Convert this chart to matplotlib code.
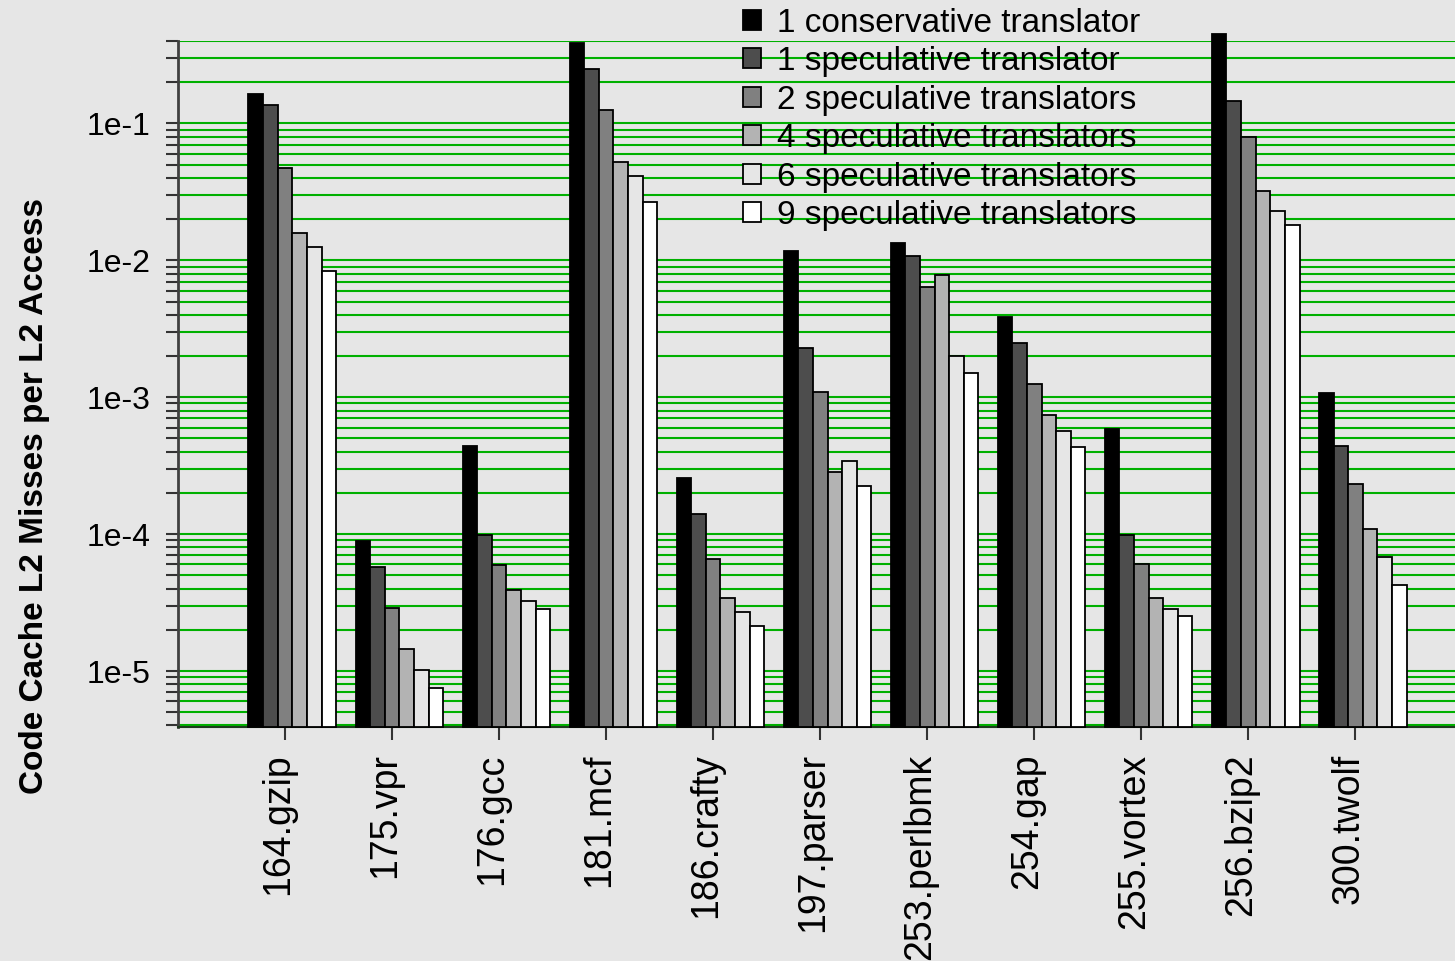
import numpy as np
import matplotlib
matplotlib.use("Agg")
from matplotlib import pyplot as plt
from matplotlib.transforms import ScaledTranslation

plt.rcParams['font.family'] = ['Liberation Sans', 'DejaVu Sans']

# --- benchmarks and code cache miss rates (misses per L2 access)
benchmarks = ['164.gzip', '175.vpr', '176.gcc', '181.mcf', '186.crafty', '197.parser',
              '253.perlbmk', '254.gap', '255.vortex', '256.bzip2', '300.twolf']

series = ['1 conservative translator', '1 speculative translator', '2 speculative translators',
          '4 speculative translators', '6 speculative translators', '9 speculative translators']

conservative_1 = [0.165, 8.9e-5, 4.38e-4, 0.385, 2.56e-4, 0.0118, 0.0133, 3.84e-3, 5.86e-4, 0.453, 1.07e-3]
speculative_1 = [0.136, 5.8e-5, 9.9e-5, 0.25, 1.40e-4, 2.27e-3, 0.0108, 2.5e-3, 9.9e-5, 0.146, 4.43e-4]
speculative_2 = [0.0472, 2.9e-5, 5.9e-5, 0.125, 6.6e-5, 1.09e-3, 6.4e-3, 1.24e-3, 6.0e-5, 0.0796, 2.34e-4]
speculative_4 = [0.0159, 1.44e-5, 3.9e-5, 0.0527, 3.43e-5, 2.83e-4, 7.83e-3, 7.43e-4, 3.4e-5, 0.032, 1.09e-4]
speculative_6 = [0.0126, 1.02e-5, 3.24e-5, 0.041, 2.71e-5, 3.4e-4, 2.01e-3, 5.7e-4, 2.85e-5, 0.023, 6.8e-5]
speculative_9 = [0.0084, 7.5e-6, 2.82e-5, 0.0265, 2.15e-5, 2.25e-4, 1.50e-3, 4.35e-4, 2.53e-5, 0.018, 4.27e-5]

values = [conservative_1, speculative_1, speculative_2, speculative_4, speculative_6, speculative_9]
fills = ['#000000', '#4d4d4d', '#808080', '#b3b3b3', '#e6e6e6', '#ffffff']

bg = '#e6e6e6'
ymin, ymax = 3.9e-6, 0.4

fig = plt.figure(figsize=(14.55, 9.61), dpi=100, facecolor=bg)
ax = fig.add_axes([0.1223, 0.2435, 0.8777, 0.7138], facecolor=bg)

x = np.arange(len(benchmarks))
w = 0.1365
for i, (vals, c) in enumerate(zip(values, fills)):
    # bars start at the axis floor so the tallest one may poke out of the top
    ax.bar(x + (i - 2) * w, np.array(vals) - ymin, bottom=ymin, width=w, color=c,
           edgecolor='black', linewidth=1.3, label=series[i], zorder=3, clip_on=False)

ax.set_yscale('log')
ax.set_ylim(ymin, ymax)
ax.set_xlim(-1.0, 10.93)

# green grid on every decade and sub-decade
ax.yaxis.set_minor_locator(matplotlib.ticker.LogLocator(base=10, subs=np.arange(2, 10)))
ax.yaxis.set_minor_formatter(matplotlib.ticker.NullFormatter())
ax.yaxis.set_major_formatter(matplotlib.ticker.FuncFormatter(lambda v, p: '1e%d' % round(np.log10(v))))
ax.grid(True, which='both', axis='y', color='#00b000', linewidth=1.5, zorder=0)
ax.set_axisbelow(True)

ax.tick_params(axis='y', which='both', direction='out', length=9, width=1.5, color='#333333',
               labelsize=23, pad=11)
ax.tick_params(axis='x', direction='out', length=9, width=1.5, color='#333333', labelsize=27, pad=10)

ax.set_xticks(x)
ax.set_xticklabels(benchmarks, rotation=90, va='top', ha='center')
for lab in ax.get_xticklabels():
    lab.set_transform(lab.get_transform() + ScaledTranslation(-7 / 100, 0, fig.dpi_scale_trans))

for s in ['top', 'right']:
    ax.spines[s].set_visible(False)
ax.spines['left'].set_color('#404040')
ax.spines['left'].set_linewidth(2)
ax.spines['bottom'].set_color('#1e3a1e')
ax.spines['bottom'].set_linewidth(1.5)

fig.text(0.0235, 0.484, 'Code Cache L2 Misses per L2 Access', rotation=90, ha='center', va='center',
         fontsize=24, fontweight='bold')

leg = ax.legend(loc='upper left', bbox_to_anchor=(0.5105, 0.992), bbox_transform=fig.transFigure,
                frameon=False, fontsize=24, handlelength=0.54, handleheight=0.54,
                handletextpad=0.5, labelspacing=0.225, borderpad=0, borderaxespad=0)

fig.savefig('out.png', dpi=100, facecolor=bg)
